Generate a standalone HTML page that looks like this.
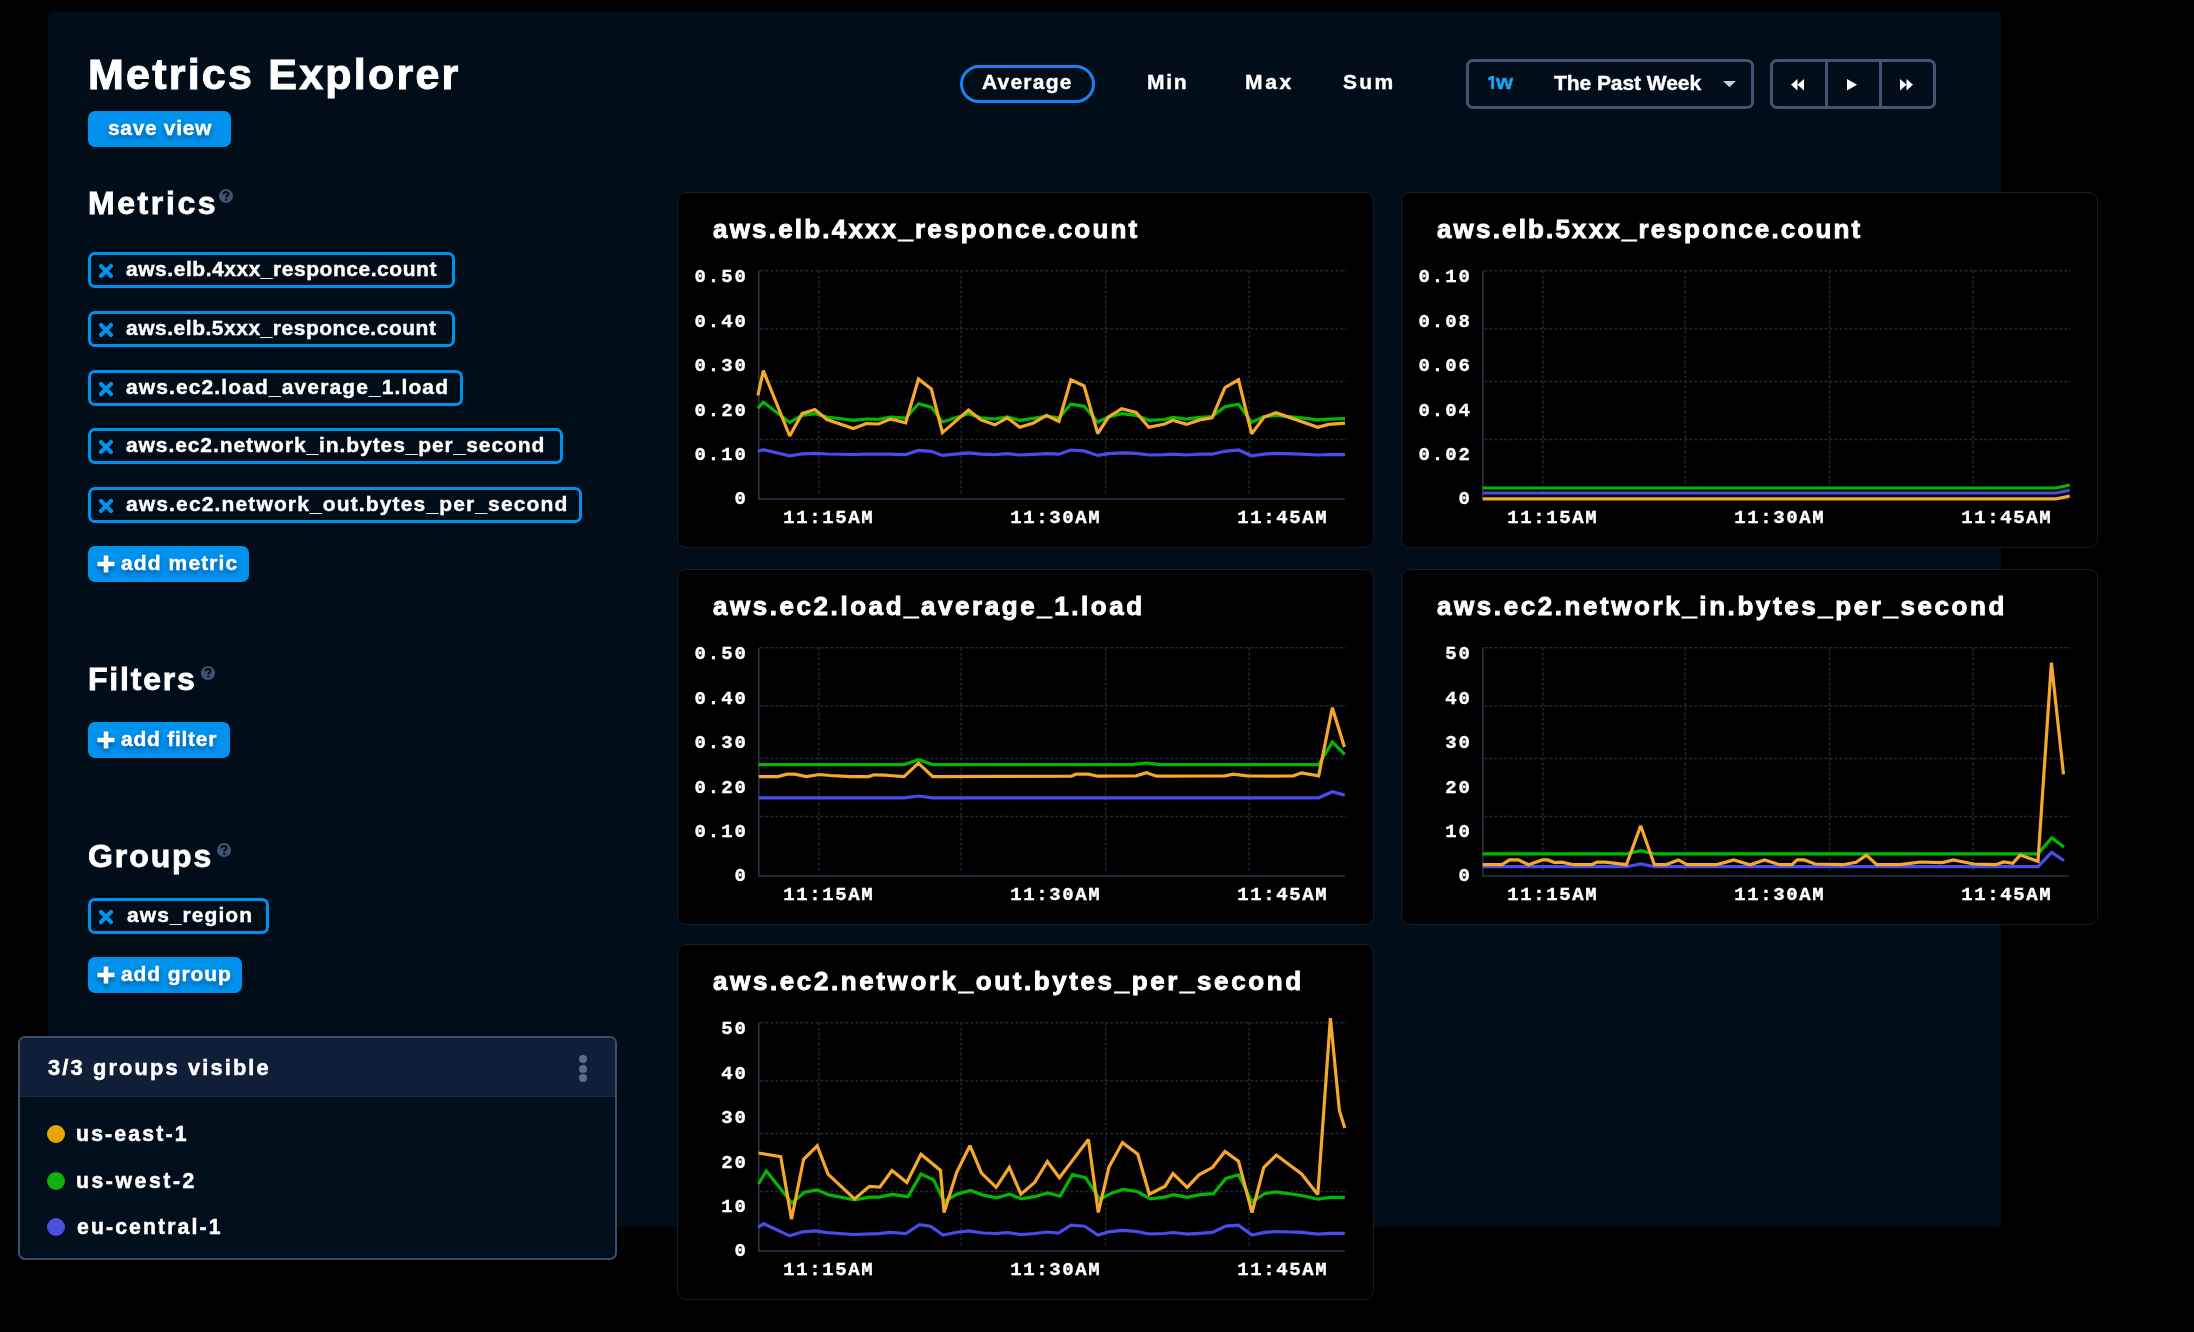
<!DOCTYPE html><html><head><meta charset="utf-8"><style>
html,body{margin:0;padding:0;background:#000;width:2194px;height:1332px;overflow:hidden}
*{box-sizing:border-box}
.t{position:absolute;white-space:pre;font-family:'Liberation Sans', sans-serif;font-weight:bold;will-change:transform}
.abs{position:absolute}
.panel{position:absolute;left:48px;top:12px;width:1953px;height:1215px;background:#020d1a;border-radius:5px}
.btn{position:absolute;background:#0092ec;border-radius:7px}
.chip{position:absolute;border:3px solid #0092ec;border-radius:7px}
.card{position:absolute;width:697px;height:356px;background:#000;border:1.5px solid #161d27;border-radius:9px}
.help{position:absolute;width:15px;height:15px;border-radius:50%;background:#3b4f6c}
.help:after{content:"?";position:absolute;left:0;top:0;width:15px;text-align:center;font:bold 12px/15px 'Liberation Sans', sans-serif;color:#08111f}
</style></head><body>

<div class="panel"></div>
<div id="h_title" class="t" style="left:88.20px;top:52.8px;font-size:43px;line-height:43px;letter-spacing:2.222px;color:#ffffff;-webkit-text-stroke:1px #fff">Metrics Explorer</div>
<div class="btn" style="left:88px;top:111px;width:143px;height:36px"></div>
<div id="b_save" class="t" style="left:107.90px;top:116.9px;font-size:21px;line-height:21px;letter-spacing:0.654px;color:#ffffff;-webkit-text-stroke:0.4px #fff;text-shadow:0 3px 5px rgba(0,70,150,0.85)">save view</div>
<div id="s_metrics" class="t" style="left:87.90px;top:187.0px;font-size:32px;line-height:32px;letter-spacing:2.585px;color:#ffffff;-webkit-text-stroke:0.8px #fff">Metrics</div>
<svg width="16" height="16" viewBox="0 0 16 16" style="position:absolute;left:217.9px;top:188.3px"><circle cx="8" cy="8" r="7.1" fill="#3f526f"/><path d="M5.5 6.2 C5.5 4.7 6.6 4 8 4 C9.5 4 10.5 4.8 10.5 6 C10.5 7.5 8.2 7.7 8.2 9.5" stroke="#050c1a" stroke-width="2" fill="none"/><circle cx="8.2" cy="11.7" r="1.15" fill="#050c1a"/></svg>
<div class="chip" style="left:88px;top:252px;width:367px;height:35.8px"></div>
<svg width="16" height="16" viewBox="0 0 16 16" style="position:absolute;left:98px;top:263px"><path d="M3 3 L13 13 M13 3 L3 13" stroke="#0092ec" stroke-width="4.2" stroke-linecap="round"/></svg>
<div id="c1" class="t" style="left:126.20px;top:258.0px;font-size:21px;line-height:21px;letter-spacing:0.537px;color:#ffffff;-webkit-text-stroke:0.4px #fff">aws.elb.4xxx_responce.count</div>
<div class="chip" style="left:88px;top:311px;width:367px;height:35.8px"></div>
<svg width="16" height="16" viewBox="0 0 16 16" style="position:absolute;left:98px;top:322px"><path d="M3 3 L13 13 M13 3 L3 13" stroke="#0092ec" stroke-width="4.2" stroke-linecap="round"/></svg>
<div id="c2" class="t" style="left:126.20px;top:317.0px;font-size:21px;line-height:21px;letter-spacing:0.517px;color:#ffffff;-webkit-text-stroke:0.4px #fff">aws.elb.5xxx_responce.count</div>
<div class="chip" style="left:88px;top:370px;width:375px;height:35.8px"></div>
<svg width="16" height="16" viewBox="0 0 16 16" style="position:absolute;left:98px;top:381px"><path d="M3 3 L13 13 M13 3 L3 13" stroke="#0092ec" stroke-width="4.2" stroke-linecap="round"/></svg>
<div id="c3" class="t" style="left:126.20px;top:376.0px;font-size:21px;line-height:21px;letter-spacing:1.115px;color:#ffffff;-webkit-text-stroke:0.4px #fff">aws.ec2.load_average_1.load</div>
<div class="chip" style="left:88px;top:428px;width:475px;height:35.8px"></div>
<svg width="16" height="16" viewBox="0 0 16 16" style="position:absolute;left:98px;top:439px"><path d="M3 3 L13 13 M13 3 L3 13" stroke="#0092ec" stroke-width="4.2" stroke-linecap="round"/></svg>
<div id="c4" class="t" style="left:126.20px;top:434.0px;font-size:21px;line-height:21px;letter-spacing:0.907px;color:#ffffff;-webkit-text-stroke:0.4px #fff">aws.ec2.network_in.bytes_per_second</div>
<div class="chip" style="left:88px;top:487px;width:494px;height:35.8px"></div>
<svg width="16" height="16" viewBox="0 0 16 16" style="position:absolute;left:98px;top:498px"><path d="M3 3 L13 13 M13 3 L3 13" stroke="#0092ec" stroke-width="4.2" stroke-linecap="round"/></svg>
<div id="c5" class="t" style="left:126.20px;top:493.0px;font-size:21px;line-height:21px;letter-spacing:1.138px;color:#ffffff;-webkit-text-stroke:0.4px #fff">aws.ec2.network_out.bytes_per_second</div>
<div class="btn" style="left:88px;top:546.3px;width:161px;height:36px"></div>
<svg width="18" height="18" viewBox="0 0 18 18" style="position:absolute;left:97px;top:555.3px;filter:drop-shadow(0 3px 2px rgba(0,60,130,0.7))"><path d="M9 0.5 V17.5 M0.5 9 H17.5" stroke="#fff" stroke-width="4.6"/></svg>
<div id="b_metric" class="t" style="left:121.10px;top:552.3px;font-size:21px;line-height:21px;letter-spacing:1.111px;color:#ffffff;-webkit-text-stroke:0.4px #fff;text-shadow:0 3px 5px rgba(0,70,150,0.85)">add metric</div>
<div id="s_filters" class="t" style="left:87.80px;top:662.9px;font-size:32px;line-height:32px;letter-spacing:1.800px;color:#ffffff;-webkit-text-stroke:0.8px #fff">Filters</div>
<svg width="16" height="16" viewBox="0 0 16 16" style="position:absolute;left:200.2px;top:664.8px"><circle cx="8" cy="8" r="7.1" fill="#3f526f"/><path d="M5.5 6.2 C5.5 4.7 6.6 4 8 4 C9.5 4 10.5 4.8 10.5 6 C10.5 7.5 8.2 7.7 8.2 9.5" stroke="#050c1a" stroke-width="2" fill="none"/><circle cx="8.2" cy="11.7" r="1.15" fill="#050c1a"/></svg>
<div class="btn" style="left:88px;top:721.5px;width:142px;height:36px"></div>
<svg width="18" height="18" viewBox="0 0 18 18" style="position:absolute;left:97px;top:730.5px;filter:drop-shadow(0 3px 2px rgba(0,60,130,0.7))"><path d="M9 0.5 V17.5 M0.5 9 H17.5" stroke="#fff" stroke-width="4.6"/></svg>
<div id="b_filter" class="t" style="left:121.10px;top:727.5px;font-size:21px;line-height:21px;letter-spacing:0.752px;color:#ffffff;-webkit-text-stroke:0.4px #fff;text-shadow:0 3px 5px rgba(0,70,150,0.85)">add filter</div>
<div id="s_groups" class="t" style="left:87.60px;top:839.6px;font-size:32px;line-height:32px;letter-spacing:1.920px;color:#ffffff;-webkit-text-stroke:0.8px #fff">Groups</div>
<svg width="16" height="16" viewBox="0 0 16 16" style="position:absolute;left:215.8px;top:841.9px"><circle cx="8" cy="8" r="7.1" fill="#3f526f"/><path d="M5.5 6.2 C5.5 4.7 6.6 4 8 4 C9.5 4 10.5 4.8 10.5 6 C10.5 7.5 8.2 7.7 8.2 9.5" stroke="#050c1a" stroke-width="2" fill="none"/><circle cx="8.2" cy="11.7" r="1.15" fill="#050c1a"/></svg>
<div class="chip" style="left:88px;top:898px;width:181px;height:36px"></div>
<svg width="16" height="16" viewBox="0 0 16 16" style="position:absolute;left:98px;top:909px"><path d="M3 3 L13 13 M13 3 L3 13" stroke="#0092ec" stroke-width="4.2" stroke-linecap="round"/></svg>
<div id="c_region" class="t" style="left:127.00px;top:904.0px;font-size:21px;line-height:21px;letter-spacing:1.061px;color:#ffffff;-webkit-text-stroke:0.4px #fff">aws_region</div>
<div class="btn" style="left:88px;top:957px;width:154px;height:36px"></div>
<svg width="18" height="18" viewBox="0 0 18 18" style="position:absolute;left:97px;top:966px;filter:drop-shadow(0 3px 2px rgba(0,60,130,0.7))"><path d="M9 0.5 V17.5 M0.5 9 H17.5" stroke="#fff" stroke-width="4.6"/></svg>
<div id="b_group" class="t" style="left:121.10px;top:963.0px;font-size:21px;line-height:21px;letter-spacing:0.904px;color:#ffffff;-webkit-text-stroke:0.4px #fff;text-shadow:0 3px 5px rgba(0,70,150,0.85)">add group</div>
<div class="abs" style="left:18px;top:1036px;width:599px;height:224px;border:2px solid #3a4e6c;border-radius:7px;background:#010e1c;overflow:hidden"><div class="abs" style="left:0;top:0;width:100%;height:58.6px;background:#101f38;border-bottom:1.5px solid #182b4a"></div></div>
<div id="l_head" class="t" style="left:47.90px;top:1056.5px;font-size:21.8px;line-height:21.8px;letter-spacing:2.151px;color:#ffffff;-webkit-text-stroke:0.5px #fff">3/3 groups visible</div>
<div class="abs" style="left:578.5px;top:1055.0px;width:8px;height:8px;border-radius:50%;background:#5d6d87"></div>
<div class="abs" style="left:578.5px;top:1064.6px;width:8px;height:8px;border-radius:50%;background:#5d6d87"></div>
<div class="abs" style="left:578.5px;top:1074.2px;width:8px;height:8px;border-radius:50%;background:#5d6d87"></div>
<div class="abs" style="left:47px;top:1125px;width:18px;height:18px;border-radius:50%;background:#e8a30c"></div>
<div id="l1" class="t" style="left:75.70px;top:1123.1px;font-size:21.2px;line-height:21.2px;letter-spacing:2.196px;color:#ffffff;-webkit-text-stroke:0.5px #fff">us-east-1</div>
<div class="abs" style="left:47px;top:1172px;width:18px;height:18px;border-radius:50%;background:#0db20d"></div>
<div id="l2" class="t" style="left:75.70px;top:1170.1px;font-size:21.2px;line-height:21.2px;letter-spacing:2.571px;color:#ffffff;-webkit-text-stroke:0.5px #fff">us-west-2</div>
<div class="abs" style="left:47px;top:1218px;width:18px;height:18px;border-radius:50%;background:#4a4fe0"></div>
<div id="l3" class="t" style="left:76.70px;top:1216.1px;font-size:21.2px;line-height:21.2px;letter-spacing:2.128px;color:#ffffff;-webkit-text-stroke:0.5px #fff">eu-central-1</div>
<div class="abs" style="left:960px;top:65px;width:135px;height:38px;border:3px solid #1a82f0;border-radius:19px"></div>
<div id="t_avg" class="t" style="left:982.00px;top:71.2px;font-size:21px;line-height:21px;letter-spacing:1.209px;color:#ffffff;-webkit-text-stroke:0.4px #fff">Average</div>
<div id="t_min" class="t" style="left:1147.30px;top:71.2px;font-size:21px;line-height:21px;letter-spacing:1.650px;color:#ffffff;-webkit-text-stroke:0.4px #fff">Min</div>
<div id="t_max" class="t" style="left:1245.30px;top:71.2px;font-size:21px;line-height:21px;letter-spacing:2.650px;color:#ffffff;-webkit-text-stroke:0.4px #fff">Max</div>
<div id="t_sum" class="t" style="left:1343.00px;top:71.2px;font-size:21px;line-height:21px;letter-spacing:2.300px;color:#ffffff;-webkit-text-stroke:0.4px #fff">Sum</div>
<div class="abs" style="left:1466px;top:59px;width:288px;height:49.5px;border:3px solid #43546e;border-radius:7px"></div>
<svg class="abs" style="left:1488px;top:76px" width="8" height="14"><path d="M3.1 0 H6.1 V13 H3.1 V3.6 L0.2 4.7 V1.7 Z" fill="#14a2f2"/></svg>
<div id="t_w" class="t" style="left:1496.10px;top:72.7px;font-size:19.5px;line-height:19.5px;letter-spacing:0.000px;color:#14a2f2;-webkit-text-stroke:0.5px #14a2f2;transform:scaleX(1.12);transform-origin:0 0">w</div>
<div id="t_week" class="t" style="left:1554.30px;top:71.8px;font-size:21px;line-height:21px;letter-spacing:-0.063px;color:#ffffff;-webkit-text-stroke:0.4px #fff">The Past Week</div>
<svg class="abs" style="left:1722.5px;top:81px" width="14" height="7"><path d="M0 0 H12.8 L6.4 6.2 Z" fill="#b9d3ec"/></svg>
<div class="abs" style="left:1769.5px;top:59px;width:166.5px;height:49.5px;border:3px solid #43546e;border-radius:7px"></div>
<div class="abs" style="left:1825px;top:61px;width:2.7px;height:46px;background:#43546e"></div>
<div class="abs" style="left:1879px;top:61px;width:2.7px;height:46px;background:#43546e"></div>
<svg class="abs" style="left:1788px;top:77.5px" width="20" height="14"><path d="M9.5 1 L3 6.8 L9.5 12.6 Z M16 1 L9.5 6.8 L16 12.6 Z" fill="#fff"/></svg>
<svg class="abs" style="left:1844px;top:77.5px" width="20" height="14"><path d="M3 1 L13 6.8 L3 12.6 Z" fill="#fff"/></svg>
<svg class="abs" style="left:1897px;top:77.5px" width="20" height="14"><path d="M3 1 L9.5 6.8 L3 12.6 Z M9.5 1 L16 6.8 L9.5 12.6 Z" fill="#fff"/></svg>
<div class="card" style="left:677px;top:192px"></div>
<div class="card" style="left:1401px;top:192px"></div>
<div class="card" style="left:677px;top:569px"></div>
<div class="card" style="left:1401px;top:569px"></div>
<div class="card" style="left:677px;top:944px"></div>
<div id="ti0" class="t" style="left:713.00px;top:215.6px;font-size:26px;line-height:26px;letter-spacing:2.200px;color:#ffffff;-webkit-text-stroke:0.9px #fff">aws.elb.4xxx_responce.count</div>
<div id="ti1" class="t" style="left:1437.00px;top:215.6px;font-size:26px;line-height:26px;letter-spacing:2.162px;color:#ffffff;-webkit-text-stroke:0.9px #fff">aws.elb.5xxx_responce.count</div>
<div id="ti2" class="t" style="left:713.00px;top:592.6px;font-size:26px;line-height:26px;letter-spacing:2.554px;color:#ffffff;-webkit-text-stroke:0.9px #fff">aws.ec2.load_average_1.load</div>
<div id="ti3" class="t" style="left:1437.00px;top:592.6px;font-size:26px;line-height:26px;letter-spacing:2.577px;color:#ffffff;-webkit-text-stroke:0.9px #fff">aws.ec2.network_in.bytes_per_second</div>
<div id="ti4" class="t" style="left:713.00px;top:967.6px;font-size:26px;line-height:26px;letter-spacing:2.600px;color:#ffffff;-webkit-text-stroke:0.9px #fff">aws.ec2.network_out.bytes_per_second</div>
<svg class="abs" style="left:0;top:0;will-change:transform" width="2194" height="1332" viewBox="0 0 2194 1332">
<g font-family="'Liberation Mono', monospace" font-weight="bold" font-size="19" fill="#fff" stroke="#fff" stroke-width="0.35">
<line x1="760.3" y1="270.7" x2="1346.5" y2="270.7" stroke="#1e293a" stroke-width="1.5" stroke-dasharray="3 2"/>
<line x1="760.3" y1="328.9" x2="1346.5" y2="328.9" stroke="#1e293a" stroke-width="1.5" stroke-dasharray="3 2"/>
<line x1="760.3" y1="381.4" x2="1346.5" y2="381.4" stroke="#1e293a" stroke-width="1.5" stroke-dasharray="3 2"/>
<line x1="760.3" y1="439.5" x2="1346.5" y2="439.5" stroke="#1e293a" stroke-width="1.5" stroke-dasharray="3 2"/>
<line x1="818.8" y1="270.5" x2="818.8" y2="495" stroke="#1e293a" stroke-width="1.5" stroke-dasharray="3 2"/>
<line x1="961.2" y1="270.5" x2="961.2" y2="495" stroke="#1e293a" stroke-width="1.5" stroke-dasharray="3 2"/>
<line x1="1105.6" y1="270.5" x2="1105.6" y2="495" stroke="#1e293a" stroke-width="1.5" stroke-dasharray="3 2"/>
<line x1="1249.2" y1="270.5" x2="1249.2" y2="495" stroke="#1e293a" stroke-width="1.5" stroke-dasharray="3 2"/>
<path d="M758.8 270.5 V499 H1345" fill="none" stroke="#273449" stroke-width="1.6"/>
<text x="748" y="282.3" text-anchor="end" letter-spacing="2">0.50</text>
<text x="748" y="326.7" text-anchor="end" letter-spacing="2">0.40</text>
<text x="748" y="371.1" text-anchor="end" letter-spacing="2">0.30</text>
<text x="748" y="415.5" text-anchor="end" letter-spacing="2">0.20</text>
<text x="748" y="459.9" text-anchor="end" letter-spacing="2">0.10</text>
<text x="748" y="504.3" text-anchor="end" letter-spacing="2">0</text>
<text x="828.8" y="523.2" text-anchor="middle" letter-spacing="1.6">11:15AM</text>
<text x="1055.8" y="523.2" text-anchor="middle" letter-spacing="1.6">11:30AM</text>
<text x="1282.8" y="523.2" text-anchor="middle" letter-spacing="1.6">11:45AM</text>
<line x1="1484.3" y1="270.7" x2="2070.5" y2="270.7" stroke="#1e293a" stroke-width="1.5" stroke-dasharray="3 2"/>
<line x1="1484.3" y1="328.9" x2="2070.5" y2="328.9" stroke="#1e293a" stroke-width="1.5" stroke-dasharray="3 2"/>
<line x1="1484.3" y1="381.4" x2="2070.5" y2="381.4" stroke="#1e293a" stroke-width="1.5" stroke-dasharray="3 2"/>
<line x1="1484.3" y1="439.5" x2="2070.5" y2="439.5" stroke="#1e293a" stroke-width="1.5" stroke-dasharray="3 2"/>
<line x1="1542.8" y1="270.5" x2="1542.8" y2="495" stroke="#1e293a" stroke-width="1.5" stroke-dasharray="3 2"/>
<line x1="1685.2" y1="270.5" x2="1685.2" y2="495" stroke="#1e293a" stroke-width="1.5" stroke-dasharray="3 2"/>
<line x1="1829.6" y1="270.5" x2="1829.6" y2="495" stroke="#1e293a" stroke-width="1.5" stroke-dasharray="3 2"/>
<line x1="1973.2" y1="270.5" x2="1973.2" y2="495" stroke="#1e293a" stroke-width="1.5" stroke-dasharray="3 2"/>
<path d="M1482.8 270.5 V499 H2069" fill="none" stroke="#273449" stroke-width="1.6"/>
<text x="1472" y="282.3" text-anchor="end" letter-spacing="2">0.10</text>
<text x="1472" y="326.7" text-anchor="end" letter-spacing="2">0.08</text>
<text x="1472" y="371.1" text-anchor="end" letter-spacing="2">0.06</text>
<text x="1472" y="415.5" text-anchor="end" letter-spacing="2">0.04</text>
<text x="1472" y="459.9" text-anchor="end" letter-spacing="2">0.02</text>
<text x="1472" y="504.3" text-anchor="end" letter-spacing="2">0</text>
<text x="1552.8" y="523.2" text-anchor="middle" letter-spacing="1.6">11:15AM</text>
<text x="1779.8" y="523.2" text-anchor="middle" letter-spacing="1.6">11:30AM</text>
<text x="2006.8" y="523.2" text-anchor="middle" letter-spacing="1.6">11:45AM</text>
<line x1="760.3" y1="647.7" x2="1346.5" y2="647.7" stroke="#1e293a" stroke-width="1.5" stroke-dasharray="3 2"/>
<line x1="760.3" y1="705.9" x2="1346.5" y2="705.9" stroke="#1e293a" stroke-width="1.5" stroke-dasharray="3 2"/>
<line x1="760.3" y1="758.4" x2="1346.5" y2="758.4" stroke="#1e293a" stroke-width="1.5" stroke-dasharray="3 2"/>
<line x1="760.3" y1="816.5" x2="1346.5" y2="816.5" stroke="#1e293a" stroke-width="1.5" stroke-dasharray="3 2"/>
<line x1="818.8" y1="647.5" x2="818.8" y2="872" stroke="#1e293a" stroke-width="1.5" stroke-dasharray="3 2"/>
<line x1="961.2" y1="647.5" x2="961.2" y2="872" stroke="#1e293a" stroke-width="1.5" stroke-dasharray="3 2"/>
<line x1="1105.6" y1="647.5" x2="1105.6" y2="872" stroke="#1e293a" stroke-width="1.5" stroke-dasharray="3 2"/>
<line x1="1249.2" y1="647.5" x2="1249.2" y2="872" stroke="#1e293a" stroke-width="1.5" stroke-dasharray="3 2"/>
<path d="M758.8 647.5 V876 H1345" fill="none" stroke="#273449" stroke-width="1.6"/>
<text x="748" y="659.3" text-anchor="end" letter-spacing="2">0.50</text>
<text x="748" y="703.7" text-anchor="end" letter-spacing="2">0.40</text>
<text x="748" y="748.1" text-anchor="end" letter-spacing="2">0.30</text>
<text x="748" y="792.5" text-anchor="end" letter-spacing="2">0.20</text>
<text x="748" y="836.9" text-anchor="end" letter-spacing="2">0.10</text>
<text x="748" y="881.3" text-anchor="end" letter-spacing="2">0</text>
<text x="828.8" y="900.2" text-anchor="middle" letter-spacing="1.6">11:15AM</text>
<text x="1055.8" y="900.2" text-anchor="middle" letter-spacing="1.6">11:30AM</text>
<text x="1282.8" y="900.2" text-anchor="middle" letter-spacing="1.6">11:45AM</text>
<line x1="1484.3" y1="647.7" x2="2070.5" y2="647.7" stroke="#1e293a" stroke-width="1.5" stroke-dasharray="3 2"/>
<line x1="1484.3" y1="705.9" x2="2070.5" y2="705.9" stroke="#1e293a" stroke-width="1.5" stroke-dasharray="3 2"/>
<line x1="1484.3" y1="758.4" x2="2070.5" y2="758.4" stroke="#1e293a" stroke-width="1.5" stroke-dasharray="3 2"/>
<line x1="1484.3" y1="816.5" x2="2070.5" y2="816.5" stroke="#1e293a" stroke-width="1.5" stroke-dasharray="3 2"/>
<line x1="1542.8" y1="647.5" x2="1542.8" y2="872" stroke="#1e293a" stroke-width="1.5" stroke-dasharray="3 2"/>
<line x1="1685.2" y1="647.5" x2="1685.2" y2="872" stroke="#1e293a" stroke-width="1.5" stroke-dasharray="3 2"/>
<line x1="1829.6" y1="647.5" x2="1829.6" y2="872" stroke="#1e293a" stroke-width="1.5" stroke-dasharray="3 2"/>
<line x1="1973.2" y1="647.5" x2="1973.2" y2="872" stroke="#1e293a" stroke-width="1.5" stroke-dasharray="3 2"/>
<path d="M1482.8 647.5 V876 H2069" fill="none" stroke="#273449" stroke-width="1.6"/>
<text x="1472" y="659.3" text-anchor="end" letter-spacing="2">50</text>
<text x="1472" y="703.7" text-anchor="end" letter-spacing="2">40</text>
<text x="1472" y="748.1" text-anchor="end" letter-spacing="2">30</text>
<text x="1472" y="792.5" text-anchor="end" letter-spacing="2">20</text>
<text x="1472" y="836.9" text-anchor="end" letter-spacing="2">10</text>
<text x="1472" y="881.3" text-anchor="end" letter-spacing="2">0</text>
<text x="1552.8" y="900.2" text-anchor="middle" letter-spacing="1.6">11:15AM</text>
<text x="1779.8" y="900.2" text-anchor="middle" letter-spacing="1.6">11:30AM</text>
<text x="2006.8" y="900.2" text-anchor="middle" letter-spacing="1.6">11:45AM</text>
<line x1="760.3" y1="1022.7" x2="1346.5" y2="1022.7" stroke="#1e293a" stroke-width="1.5" stroke-dasharray="3 2"/>
<line x1="760.3" y1="1080.9" x2="1346.5" y2="1080.9" stroke="#1e293a" stroke-width="1.5" stroke-dasharray="3 2"/>
<line x1="760.3" y1="1133.4" x2="1346.5" y2="1133.4" stroke="#1e293a" stroke-width="1.5" stroke-dasharray="3 2"/>
<line x1="760.3" y1="1191.5" x2="1346.5" y2="1191.5" stroke="#1e293a" stroke-width="1.5" stroke-dasharray="3 2"/>
<line x1="818.8" y1="1022.5" x2="818.8" y2="1247" stroke="#1e293a" stroke-width="1.5" stroke-dasharray="3 2"/>
<line x1="961.2" y1="1022.5" x2="961.2" y2="1247" stroke="#1e293a" stroke-width="1.5" stroke-dasharray="3 2"/>
<line x1="1105.6" y1="1022.5" x2="1105.6" y2="1247" stroke="#1e293a" stroke-width="1.5" stroke-dasharray="3 2"/>
<line x1="1249.2" y1="1022.5" x2="1249.2" y2="1247" stroke="#1e293a" stroke-width="1.5" stroke-dasharray="3 2"/>
<path d="M758.8 1022.5 V1251 H1345" fill="none" stroke="#273449" stroke-width="1.6"/>
<text x="748" y="1034.3" text-anchor="end" letter-spacing="2">50</text>
<text x="748" y="1078.7" text-anchor="end" letter-spacing="2">40</text>
<text x="748" y="1123.1" text-anchor="end" letter-spacing="2">30</text>
<text x="748" y="1167.5" text-anchor="end" letter-spacing="2">20</text>
<text x="748" y="1211.9" text-anchor="end" letter-spacing="2">10</text>
<text x="748" y="1256.3" text-anchor="end" letter-spacing="2">0</text>
<text x="828.8" y="1275.2" text-anchor="middle" letter-spacing="1.6">11:15AM</text>
<text x="1055.8" y="1275.2" text-anchor="middle" letter-spacing="1.6">11:30AM</text>
<text x="1282.8" y="1275.2" text-anchor="middle" letter-spacing="1.6">11:45AM</text>
</g>
<polyline points="757.9,408.3 763.3,402.1 789.7,422.4 802.1,415.3 814.9,413.7 826.9,417.0 853.3,420.3 866.5,419.0 878.5,419.4 890.5,417.0 905.7,418.2 918.5,403.8 931.3,407.1 942.4,422.0 968.5,413.7 980.9,417.8 994.9,419.1 1007.3,417.0 1019.7,420.3 1033.5,418.4 1046.5,416.2 1058.9,417.8 1070.9,404.2 1084.1,406.3 1097.7,422.0 1108.5,417.0 1121.7,413.7 1136.1,415.3 1148.9,420.3 1164.6,419.5 1172.7,417.4 1186.5,419.1 1199.7,417.4 1212.1,416.6 1224.9,406.7 1238.5,404.2 1251.7,422.3 1264.1,416.6 1276.1,415.3 1301.3,417.8 1317.8,419.9 1328.5,419.1 1345.0,418.6" fill="none" stroke="#00b800" stroke-width="3.2" stroke-linejoin="miter" stroke-miterlimit="2.2"/>
<polyline points="757.9,451.3 763.3,449.6 789.7,455.8 802.1,453.8 814.9,453.4 826.9,454.0 853.3,454.5 866.5,454.2 878.5,454.2 890.5,454.2 905.7,454.6 918.5,450.4 931.3,451.3 942.4,455.4 968.5,452.9 980.9,454.2 994.9,454.6 1007.3,453.7 1019.7,455.0 1033.5,454.4 1046.5,453.7 1058.9,454.2 1070.9,450.0 1084.1,450.9 1097.7,455.4 1108.5,453.7 1121.7,452.9 1136.1,453.3 1148.9,455.0 1164.6,454.6 1172.7,454.2 1186.5,455.0 1199.7,454.2 1212.1,454.2 1224.9,451.3 1238.5,450.0 1251.7,455.8 1264.1,454.2 1276.1,453.3 1301.3,454.2 1317.8,455.0 1328.5,454.6 1345.0,454.6" fill="none" stroke="#474ceb" stroke-width="3.2" stroke-linejoin="miter" stroke-miterlimit="2.2"/>
<polyline points="757.9,395.5 763.3,370.7 789.7,436.0 802.1,413.7 814.9,409.6 826.9,419.5 853.3,428.6 866.5,423.6 878.5,424.0 890.5,419.1 905.7,422.8 918.5,379.0 931.3,388.9 942.4,432.7 968.5,410.0 980.9,419.9 994.9,424.8 1007.3,417.8 1019.7,427.3 1033.5,423.0 1046.5,415.3 1058.9,421.5 1070.9,379.8 1084.1,386.0 1097.7,433.5 1108.5,417.0 1121.7,408.7 1136.1,412.4 1148.9,427.3 1164.6,424.0 1172.7,420.2 1186.5,424.4 1199.7,419.9 1212.1,417.8 1224.9,387.7 1238.5,379.8 1251.7,433.9 1264.1,417.0 1276.1,412.8 1317.8,427.3 1328.5,424.4 1345.0,423.2" fill="none" stroke="#f5a82c" stroke-width="3.2" stroke-linejoin="miter" stroke-miterlimit="2.2"/>
<polyline points="1482.7,488.0 2056.1,488.0 2069.8,485.0" fill="none" stroke="#00b800" stroke-width="3.2" stroke-linejoin="miter" stroke-miterlimit="2.2"/>
<polyline points="1482.7,493.0 2056.1,493.0 2069.8,490.3" fill="none" stroke="#474ceb" stroke-width="3.2" stroke-linejoin="miter" stroke-miterlimit="2.2"/>
<polyline points="1482.7,498.9 2056.1,498.9 2069.8,496.0" fill="none" stroke="#f5a82c" stroke-width="3.2" stroke-linejoin="miter" stroke-miterlimit="2.2"/>
<polyline points="758.8,764.6 904.0,764.6 918.4,759.8 932.8,764.6 1132.0,764.6 1146.4,763.0 1160.0,764.6 1318.7,764.6 1332.4,742.1 1344.7,754.4" fill="none" stroke="#00b800" stroke-width="3.2" stroke-linejoin="miter" stroke-miterlimit="2.2"/>
<polyline points="758.8,797.8 904.0,797.8 918.4,796.0 932.8,797.8 1318.7,797.8 1332.4,791.7 1344.7,795.1" fill="none" stroke="#474ceb" stroke-width="3.2" stroke-linejoin="miter" stroke-miterlimit="2.2"/>
<polyline points="758.8,776.6 777.6,776.6 787.1,774.2 794.7,774.2 806.3,776.6 819.3,774.5 830.2,775.5 850.7,776.6 868.5,776.6 874.0,774.8 885.0,775.2 904.0,776.6 918.4,763.2 932.8,776.6 1071.2,776.2 1076.0,774.2 1088.3,774.2 1097.9,776.2 1136.1,775.8 1146.4,772.8 1156.7,776.2 1225.0,775.8 1233.2,774.2 1246.9,775.8 1274.3,776.2 1293.4,775.8 1301.6,772.8 1318.7,775.8 1332.3,707.7 1344.4,747.0" fill="none" stroke="#f5a82c" stroke-width="3.2" stroke-linejoin="miter" stroke-miterlimit="2.2"/>
<polyline points="1482.7,853.8 1626.4,853.8 1640.7,850.7 1654.4,853.8 2038.0,853.8 2051.7,838.0 2064.0,847.0" fill="none" stroke="#00b800" stroke-width="3.2" stroke-linejoin="miter" stroke-miterlimit="2.2"/>
<polyline points="1482.7,866.7 1626.4,866.7 1640.7,864.0 1654.4,866.7 2038.0,866.7 2051.7,852.4 2064.0,860.6" fill="none" stroke="#474ceb" stroke-width="3.2" stroke-linejoin="miter" stroke-miterlimit="2.2"/>
<polyline points="1482.7,864.7 1501.9,864.7 1509.5,859.9 1518.3,859.9 1528.6,864.7 1542.3,859.9 1547.7,859.9 1554.6,862.6 1561.4,862.2 1573.7,864.7 1591.5,864.7 1597.0,862.0 1605.2,862.2 1626.4,864.7 1640.7,825.7 1654.4,864.7 1666.0,864.7 1678.3,859.9 1687.2,864.7 1715.9,864.7 1724.1,862.6 1733.7,859.9 1750.1,864.7 1764.5,859.9 1779.6,864.7 1791.9,864.7 1797.3,859.9 1804.2,859.9 1815.1,864.0 1842.5,864.7 1856.1,862.2 1866.4,855.1 1876.7,864.7 1899.9,864.7 1920.4,862.0 1942.3,862.6 1953.2,859.9 1973.7,864.0 1995.6,864.7 2003.8,862.0 2012.7,863.3 2020.2,855.1 2038.0,861.3 2051.4,662.6 2063.5,774.4" fill="none" stroke="#f5a82c" stroke-width="3.2" stroke-linejoin="miter" stroke-miterlimit="2.2"/>
<polyline points="758.5,1184.0 766.3,1171.0 791.9,1203.0 804.5,1192.2 817.2,1189.9 828.9,1194.9 854.5,1199.8 869.4,1197.1 879.8,1197.1 892.0,1194.4 907.9,1196.7 921.0,1174.1 933.6,1179.9 944.1,1201.5 957.3,1194.1 970.4,1190.4 983.0,1195.1 996.7,1197.8 1009.3,1194.1 1021.4,1198.8 1034.6,1196.7 1047.9,1193.0 1060.0,1196.2 1072.6,1174.6 1085.7,1177.8 1099.9,1199.4 1110.4,1193.6 1123.0,1189.4 1137.2,1191.5 1150.4,1198.8 1164.6,1197.2 1173.5,1194.6 1187.2,1197.3 1199.8,1194.6 1213.3,1193.7 1225.9,1178.4 1238.5,1174.8 1252.0,1201.8 1264.6,1193.7 1276.3,1191.9 1301.6,1195.5 1317.8,1199.1 1330.4,1197.3 1344.8,1197.3" fill="none" stroke="#00b800" stroke-width="3.2" stroke-linejoin="miter" stroke-miterlimit="2.2"/>
<polyline points="758.2,1227.3 763.6,1223.7 789.7,1235.9 802.7,1231.8 814.9,1230.9 827.1,1232.7 853.2,1234.5 878.4,1233.6 890.1,1232.3 905.8,1233.5 919.4,1224.6 930.5,1226.2 943.1,1235.1 955.7,1232.5 968.3,1230.9 983.0,1233.0 995.7,1233.5 1007.7,1232.5 1020.9,1234.6 1034.6,1233.5 1047.2,1232.0 1058.4,1233.0 1071.0,1225.1 1084.7,1226.2 1097.8,1235.1 1108.3,1231.9 1122.0,1230.4 1135.7,1231.4 1149.3,1234.0 1164.6,1233.5 1173.0,1232.5 1187.2,1234.2 1199.8,1233.3 1212.4,1232.4 1225.9,1226.1 1238.5,1225.2 1252.0,1235.1 1264.6,1232.4 1276.3,1231.5 1301.6,1232.4 1317.8,1234.2 1330.4,1233.3 1344.8,1233.3" fill="none" stroke="#474ceb" stroke-width="3.2" stroke-linejoin="miter" stroke-miterlimit="2.2"/>
<polyline points="758.5,1153.0 780.7,1156.6 791.5,1219.2 803.6,1159.3 817.2,1145.8 828.0,1174.1 854.5,1198.9 869.4,1186.3 879.8,1187.2 892.0,1170.5 906.8,1182.5 921.0,1154.2 940.5,1170.4 944.1,1212.5 956.8,1172.0 969.9,1145.7 981.5,1173.1 996.2,1187.3 1009.3,1167.3 1020.9,1194.1 1034.6,1182.5 1047.4,1161.5 1059.4,1177.8 1088.4,1139.4 1098.3,1212.5 1108.9,1167.3 1122.5,1142.6 1137.8,1154.2 1149.3,1194.1 1165.1,1186.2 1173.0,1173.6 1187.2,1187.4 1198.9,1174.8 1212.4,1167.6 1225.0,1151.4 1238.5,1161.3 1252.0,1212.6 1263.7,1167.6 1276.3,1155.0 1301.6,1173.9 1317.8,1194.6 1330.4,1018.1 1339.4,1110.8 1344.8,1128.0" fill="none" stroke="#f5a82c" stroke-width="3.2" stroke-linejoin="miter" stroke-miterlimit="2.2"/>
</svg>
</body></html>
